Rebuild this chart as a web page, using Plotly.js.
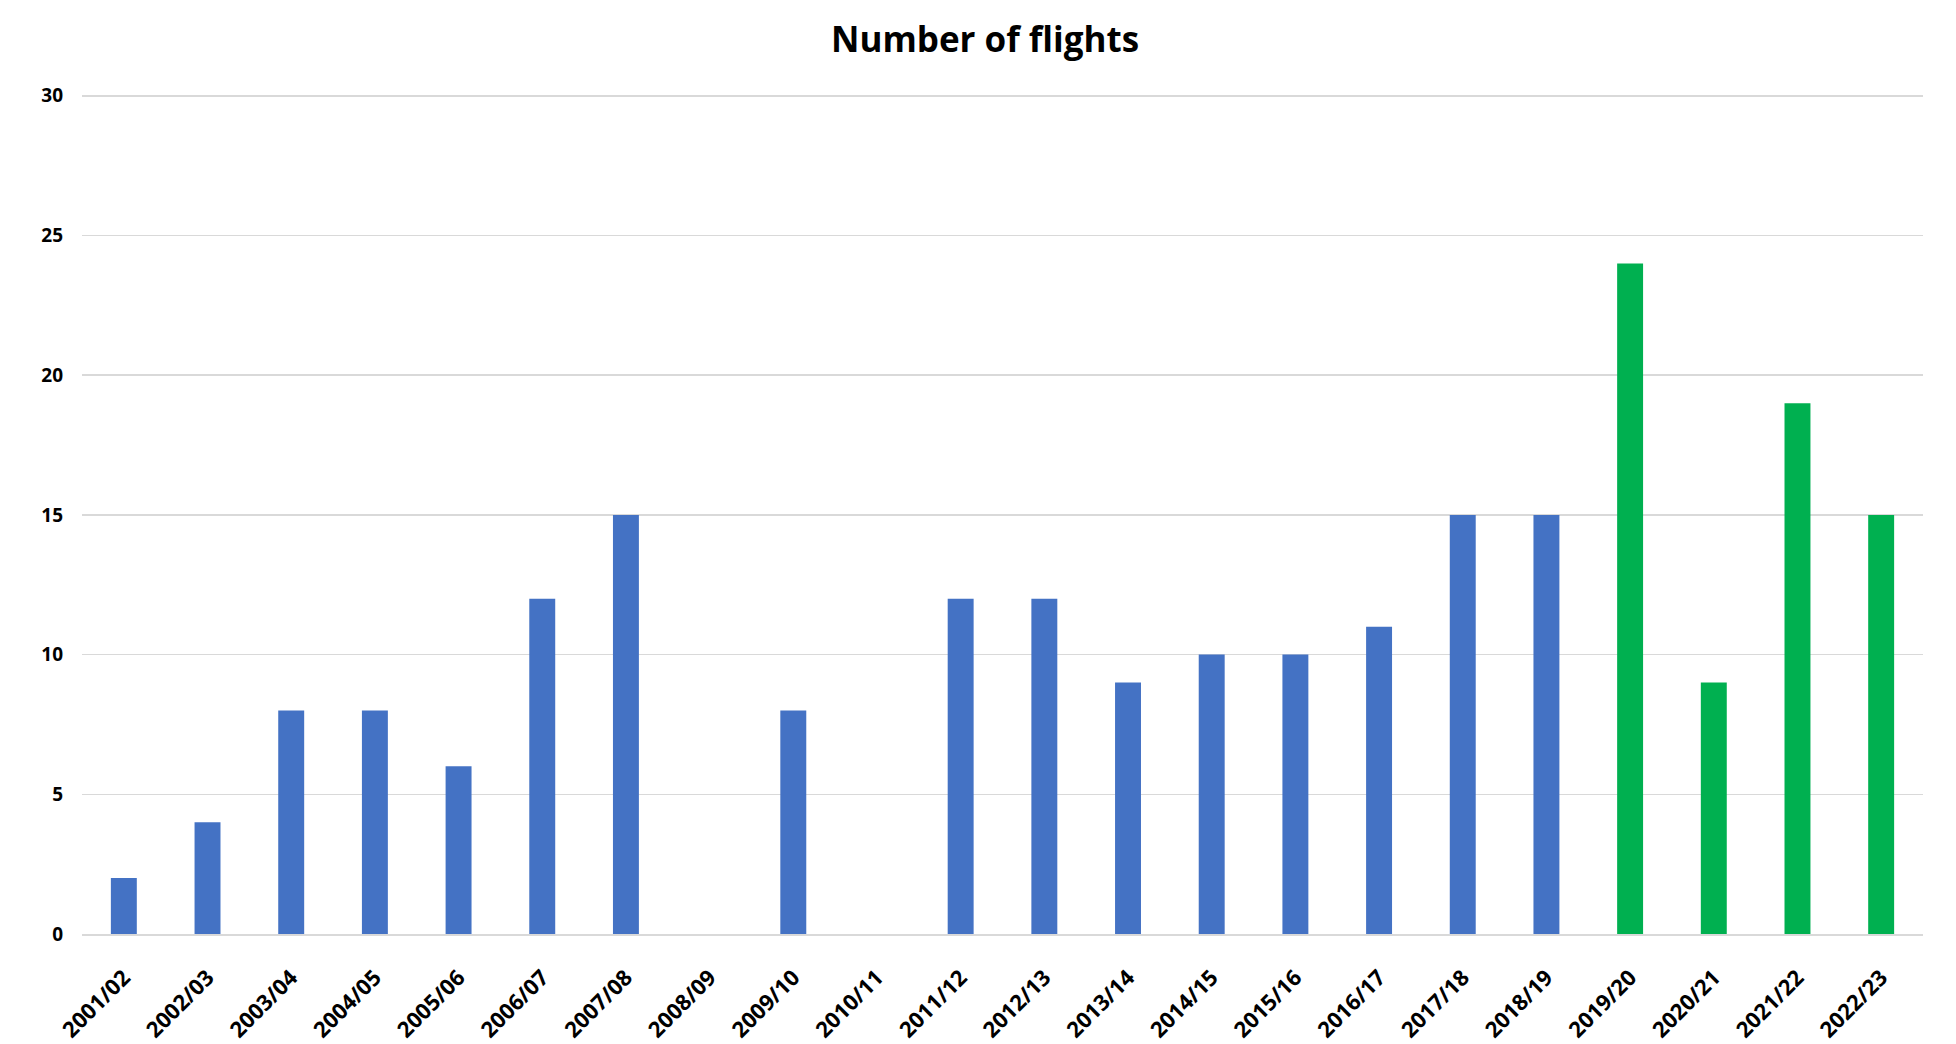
<!DOCTYPE html>
<html>
<head>
<meta charset="utf-8">
<script src="https://cdn.plot.ly/plotly-3.0.1.min.js"></script>
<style>html,body{margin:0;padding:0;background:#fff;}#chart{width:1956px;height:1044px;}</style>
</head>
<body>
<div id="chart"></div>
<script>
const seasons = ["2001/02","2002/03","2003/04","2004/05","2005/06","2006/07","2007/08","2008/09","2009/10","2010/11","2011/12","2012/13","2013/14","2014/15","2015/16","2016/17","2017/18","2018/19","2019/20","2020/21","2021/22","2022/23"];
const flights = [2,4,8,8,6,12,15,null,8,null,12,12,9,10,10,11,15,15,24,9,19,15];
const greenFrom = "2019/20";
const yTicks = [0,5,10,15,20,25,30];

const split = seasons.indexOf(greenFrom);
const font = "Open Sans, Liberation Sans, sans-serif";
const traces = [
  {type:"bar", x: seasons.slice(0, split), y: flights.slice(0, split), marker:{color:"#4472C4"}, hoverinfo:"x+y"},
  {type:"bar", x: seasons.slice(split), y: flights.slice(split), marker:{color:"#00B050"}, hoverinfo:"x+y"}
];
const layout = {
  width:1956, height:1044,
  margin:{l:82, r:33, t:93, b:110},
  paper_bgcolor:"#fff", plot_bgcolor:"#fff",
  showlegend:false,
  barmode:"overlay",
  bargap:0.69,
  title:{text:"<b>Number of flights</b>", x:0.5036, xanchor:"center", y:0.962, yanchor:"middle", font:{family:font, size:35, color:"#000"}},
  xaxis:{type:"category", categoryorder:"array", categoryarray:seasons, tickangle:-45, showgrid:false, showline:true, linecolor:"#d9d9d9", linewidth:2, ticks:"", tickfont:{family:font, size:22, color:"#000", weight:"bold"}, ticklabelstandoff:20, automargin:false},
  yaxis:{range:[0,30.1], tickvals:yTicks, showgrid:true, gridcolor:"#d9d9d9", gridwidth:1.5, zeroline:false, ticks:"", showline:false, tickfont:{family:font, size:19, color:"#000", weight:"bold"}, ticklabelstandoff:18, automargin:false}
};
Plotly.newPlot("chart", traces, layout, {displayModeBar:false, staticPlot:true});
</script>
</body>
</html>
